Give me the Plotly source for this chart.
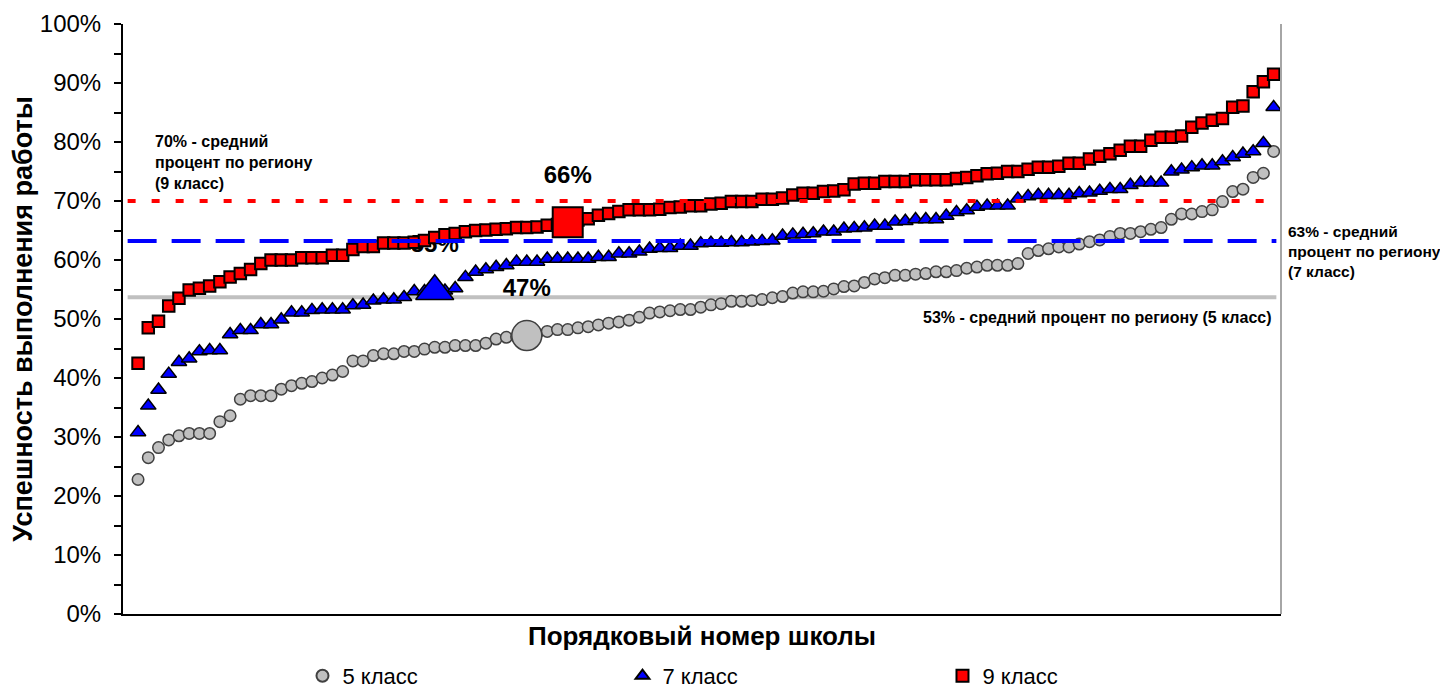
import plotly.graph_objects as go

# ---- data (percent of successful completion, schools sorted) ----
grade5 = [22.8, 26.5, 28.2, 29.5, 30.2, 30.6, 30.6, 30.6, 32.6, 33.6,
          36.4, 37.0, 37.0, 37.0, 38.1, 38.7, 39.1, 39.4, 40.0, 40.5,
          41.1, 42.9, 42.9, 43.8, 44.1, 44.1, 44.5, 44.5, 44.9, 45.2,
          45.2, 45.5, 45.5, 45.5, 45.9, 46.6, 46.9, 47.0, 47.2, 47.5,
          47.9, 48.2, 48.2, 48.5, 48.7, 49.0, 49.3, 49.5, 49.8, 50.3,
          51.0, 51.2, 51.4, 51.6, 51.6, 52.0, 52.4, 52.6, 53.0, 53.0,
          53.1, 53.3, 53.6, 53.8, 54.4, 54.6, 54.6, 54.7, 55.1, 55.5,
          55.6, 56.2, 56.8, 57.0, 57.4, 57.4, 57.6, 57.7, 58.0, 58.0,
          58.2, 58.6, 58.8, 59.1, 59.1, 59.1, 59.4, 61.1, 61.6, 61.9,
          62.2, 62.2, 62.7, 63.1, 63.4, 64.0, 64.5, 64.5, 64.8, 65.2,
          65.5, 66.9, 67.8, 67.8, 68.2, 68.5, 69.9, 71.6, 72.0, 74.0,
          74.7, 78.4]

grade7 = [30.8, 35.3, 38.0, 40.7, 42.7, 43.3, 44.5, 44.7, 44.7, 47.4,
          48.1, 48.1, 49.1, 49.1, 49.9, 51.1, 51.1, 51.5, 51.6, 51.6,
          51.6, 52.3, 52.4, 53.1, 53.3, 53.3, 53.7, 54.7, 54.7, 54.7,
          54.8, 55.2, 57.1, 58.0, 58.4, 58.8, 59.1, 59.7, 59.7, 59.7,
          60.2, 60.2, 60.2, 60.2, 60.2, 60.5, 60.5, 61.1, 61.1, 61.4,
          61.9, 62.0, 62.0, 62.4, 62.4, 62.8, 62.9, 62.9, 63.0, 63.0,
          63.1, 63.2, 63.3, 64.1, 64.3, 64.4, 64.5, 64.8, 64.8, 65.3,
          65.4, 65.5, 65.8, 65.8, 66.5, 66.6, 66.9, 66.9, 66.9, 67.5,
          68.1, 68.4, 69.0, 69.2, 69.2, 69.2, 70.4, 70.8, 71.0, 71.0,
          71.0, 71.0, 71.3, 71.4, 71.7, 72.0, 72.0, 72.7, 73.1, 73.1,
          73.1, 75.0, 75.3, 75.7, 76.0, 76.0, 76.7, 77.4, 78.0, 78.4,
          79.8, 85.9]

grade9 = [42.5, 48.5, 49.6, 52.2, 53.5, 54.9, 55.2, 55.6, 56.3, 57.1,
          57.7, 58.4, 59.4, 60.0, 60.0, 60.0, 60.4, 60.4, 60.4, 60.8,
          60.8, 61.8, 62.3, 62.3, 62.9, 62.9, 62.9, 63.0, 63.3, 63.8,
          64.3, 64.5, 64.8, 65.0, 65.1, 65.2, 65.3, 65.5, 65.5, 65.6,
          65.9, 66.0, 66.4, 66.8, 67.0, 67.6, 67.9, 68.2, 68.5, 68.5,
          68.5, 68.6, 68.9, 69.0, 69.2, 69.2, 69.5, 69.6, 69.9, 69.9,
          69.9, 70.3, 70.3, 70.5, 71.0, 71.3, 71.3, 71.6, 71.7, 71.9,
          72.9, 73.0, 73.0, 73.3, 73.3, 73.3, 73.6, 73.6, 73.6, 73.6,
          73.8, 74.0, 74.3, 74.6, 74.7, 75.0, 75.0, 75.4, 75.7, 75.7,
          75.9, 76.4, 76.4, 77.1, 77.6, 78.0, 78.6, 79.3, 79.3, 80.3,
          80.8, 80.8, 81.0, 82.5, 83.2, 83.7, 84.0, 85.9, 86.1, 88.5,
          90.2, 91.5]

series_names = ["5 класс", "7 класс", "9 класс"]
highlight_idx = [38, 29, 42]          # highlighted school in each grade
region_avg = [53.7, 63.2, 70.0]       # regional average lines
region_text = ["53% - средний процент по региону (5 класс)",
               "63% - средний<br>процент по региону<br>(7 класс)",
               "70% - средний<br>процент по региону<br>(9 класс)"]
y_ticks = list(range(0, 101, 10))

FONT = "Liberation Sans, Arial, sans-serif"
x = list(range(len(grade5)))

styles = [
    dict(symbol="circle", color="#c0c0c0", line=dict(color="#404040", width=1.5), size=11.5, big=30),
    dict(symbol="triangle-up", color="#0000ff", line=dict(color="#000000", width=1.5), size=13.5, big=33),
    dict(symbol="square", color="#ff0000", line=dict(color="#000000", width=2), size=11.5, big=30),
]
data = [grade5, grade7, grade9]

fig = go.Figure()

def add_series(k):
    st = styles[k]
    fig.add_trace(go.Scatter(
        x=x, y=data[k], mode="markers", name=series_names[k],
        marker=dict(symbol=st["symbol"], color=st["color"], size=st["size"], line=st["line"]),
    ))

def add_label(k):
    i = highlight_idx[k]
    v = data[k][i]
    fig.add_trace(go.Scatter(
        x=[i], y=[v + 7.7], mode="text", text=[f"<b>{round(v)}%</b>"],
        textfont=dict(family=FONT, size=24, color="#000000"),
        textposition="middle center", showlegend=False, hoverinfo="skip",
    ))

add_series(0)
add_series(1)
add_label(0)
add_label(1)
add_series(2)
add_label(2)

for k in range(3):
    st = styles[k]
    i = highlight_idx[k]
    fig.add_trace(go.Scatter(
        x=[i], y=[data[k][i]], mode="markers", showlegend=False, hoverinfo="skip",
        marker=dict(symbol=st["symbol"], color=st["color"], size=st["big"], line=st["line"]),
    ))

# regional average lines
line_styles = [
    dict(color="#c0c0c0", width=4, dash="solid"),
    dict(color="#0000ff", width=4, dash="29px,15px"),
    dict(color="#ff0000", width=4, dash="8px,16px"),
]
for k in range(3):
    fig.add_shape(type="line", xref="paper", x0=0.004, x1=0.996, yref="y",
                  y0=region_avg[k], y1=region_avg[k], line=line_styles[k],
                  layer="below" if k == 0 else "above")

# right border of plot area
fig.add_shape(type="line", xref="paper", x0=1, x1=1, yref="paper", y0=0, y1=1,
              line=dict(color="#a6a6a6", width=2), layer="above")

ann_font = dict(family=FONT, size=16, color="#000000")
fig.add_annotation(xref="paper", yref="paper", x=0.994, y=0.502, xanchor="right", yanchor="middle",
                   text="<b>" + region_text[0] + "</b>", showarrow=False, align="right", font=ann_font)
fig.add_annotation(xref="paper", yref="paper", x=1.005, y=0.615, xanchor="left", yanchor="middle",
                   text="<b>" + region_text[1] + "</b>", showarrow=False, align="left",
                   font=dict(family=FONT, size=15.5, color="#000000"), borderpad=0)
fig.add_annotation(xref="paper", yref="paper", x=0.026, y=0.766, xanchor="left", yanchor="middle",
                   text="<b>" + region_text[2] + "</b>", showarrow=False, align="left", font=ann_font)

# page body has an 8px margin, so the figure is 8px smaller and shifted
fig.update_layout(
    width=1440, height=684,
    margin=dict(l=115, r=167, t=16, b=78, autoexpand=False),
    paper_bgcolor="#ffffff", plot_bgcolor="#ffffff",
    font=dict(family=FONT, color="#000000"),
    showlegend=True,
    legend=dict(orientation="h", x=0.155, xanchor="left", y=-0.105, yanchor="middle",
                entrywidth=275, entrywidthmode="pixels",
                font=dict(family=FONT, size=22), itemsizing="constant",
                bgcolor="rgba(0,0,0,0)"),
    xaxis=dict(range=[-1.47, 111.72], showgrid=False, zeroline=False, showticklabels=False,
               ticks="", showline=True, linecolor="#000000", linewidth=1.5, automargin=False,
               title=dict(text="<b>Порядковый номер школы</b>", font=dict(family=FONT, size=26), standoff=12)),
    yaxis=dict(range=[0, 100], tickvals=y_ticks, ticktext=[f"{t}%" for t in y_ticks],
               showgrid=False, zeroline=False, showline=True, linecolor="#000000", linewidth=2,
               ticks="outside", ticklen=7, tickwidth=1.5, tickcolor="#000000", automargin=False,
               minor=dict(dtick=5, ticks="outside", ticklen=7, tickwidth=1.5, tickcolor="#000000"),
               tickfont=dict(family=FONT, size=24), ticklabelstandoff=8,
               title=dict(text="<b>Успешность выполнения работы</b>", font=dict(family=FONT, size=27), standoff=8)),
)

fig.write_html("out.html")
